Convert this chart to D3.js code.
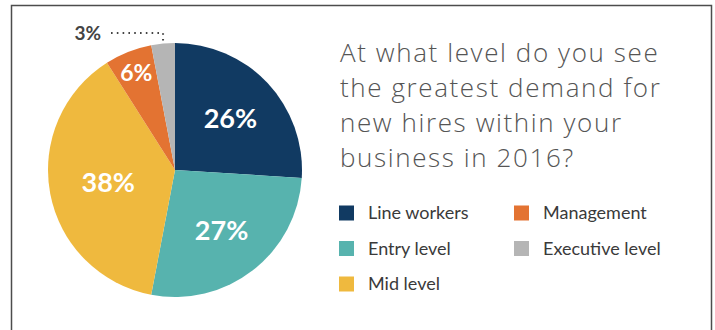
<!DOCTYPE html>
<html>
<head>
<meta charset="utf-8">
<script src="https://cdn.jsdelivr.net/npm/d3@7"></script>
<style>
  html, body { margin: 0; padding: 0; background: #fff; }
  svg { display: block; }
</style>
</head>
<body>
<svg id="chart" width="715" height="330"></svg>
<script>
// Survey answers, clockwise from 12 o'clock
const categories = ["Line workers", "Entry level", "Mid level", "Management", "Executive level"];
const shares = [26, 27, 38, 6, 3];
const colors = ["#113a62", "#57b3ae", "#efb93e", "#e37332", "#b5b5b5"];
const titleLines = ["At what level do you see", "the greatest demand for", "new hires within your", "business in 2016?"];
// legend reads down the columns
const legendOrder = [0, 1, 2, 3, 4];

const svg = d3.select("#chart");

// outer frame (runs past the bottom edge)
svg.append("rect")
  .attr("x", 11.5).attr("y", 5.5)
  .attr("width", 700).attr("height", 360)
  .attr("fill", "none")
  .attr("stroke", "#4d4d4d")
  .attr("stroke-width", 1.5);

const cx = 175, cy = 170, radius = 127;
const g = svg.append("g").attr("transform", `translate(${cx},${cy})`);

const pie = d3.pie().sort(null).value(d => d);
const arcs = pie(shares);
const arc = d3.arc().innerRadius(0).outerRadius(radius);

g.selectAll("path.slice")
  .data(arcs)
  .join("path")
  .attr("class", "slice")
  .attr("d", arc)
  .attr("fill", (d, i) => colors[i]);

// percentage labels inside the slices
const labelRadius = d => d.value >= 10 ? 76 : 105;
function labelPos(d) {
  const a = (d.startAngle + d.endAngle) / 2;
  const r = d.value > 30 ? 68 : labelRadius(d);
  return [r * Math.sin(a), -r * Math.cos(a)];
}
const inside = arcs.filter(d => d.value >= 5);
g.selectAll("text.pct")
  .data(inside)
  .join("text")
  .attr("class", "pct")
  .attr("x", d => labelPos(d)[0])
  .attr("y", d => labelPos(d)[1])
  .attr("dy", "0.36em")
  .attr("text-anchor", "middle")
  .attr("fill", "#fff")
  .attr("font-family", "Lato, 'Open Sans', sans-serif")
  .attr("font-weight", 700)
  .attr("font-size", d => d.value >= 10 ? 27 : 23)
  .text(d => d.value + "%");

// small slice gets an outside label with a dotted leader
const outside = arcs.filter(d => d.value < 5);
outside.forEach(d => {
  const a = (d.startAngle + d.endAngle) / 2;
  const ex = radius * Math.sin(a);
  const ey = -radius * Math.cos(a) - 3;
  const ly = -radius - 10;
  const lx = -68;
  g.append("path")
    .attr("d", `M${ex},${ey} L${ex},${ly} L${lx},${ly}`)
    .attr("fill", "none")
    .attr("stroke", "#444")
    .attr("stroke-width", 2)
    .attr("stroke-dasharray", "1.6,4.2");
  g.append("text")
    .attr("x", lx - 6)
    .attr("y", ly)
    .attr("dy", "0.36em")
    .attr("text-anchor", "end")
    .attr("fill", "#444")
    .attr("font-family", "Lato, 'Open Sans', sans-serif")
    .attr("font-weight", 700)
    .attr("font-size", 19)
    .text(d.value + "%");
});

// question title
svg.append("text")
  .attr("x", 340)
  .attr("font-family", "'Open Sans', sans-serif")
  .attr("font-weight", 300)
  .attr("font-size", 26)
  .attr("letter-spacing", 1.6)
  .attr("fill", "#555")
  .selectAll("tspan")
  .data(titleLines)
  .join("tspan")
  .attr("x", 340)
  .attr("y", (d, i) => 62 + i * 35)
  .text(d => d);

// legend: two columns, three rows
const legend = svg.append("g");
const items = legend.selectAll("g.item")
  .data(legendOrder)
  .join("g")
  .attr("class", "item")
  .attr("transform", (d, k) => {
    const col = Math.floor(k / 3), row = k % 3;
    return `translate(${339 + col * 175},${213 + row * 35.5})`;
  });
items.append("rect")
  .attr("x", 0).attr("y", -7.5)
  .attr("width", 15).attr("height", 15)
  .attr("fill", d => colors[d]);
items.append("text")
  .attr("x", 29)
  .attr("dy", "0.35em")
  .attr("font-family", "Lato, sans-serif")
  .attr("font-size", 18)
  .attr("fill", "#3a3a3a")
  .text(d => categories[d]);
</script>
</body>
</html>
